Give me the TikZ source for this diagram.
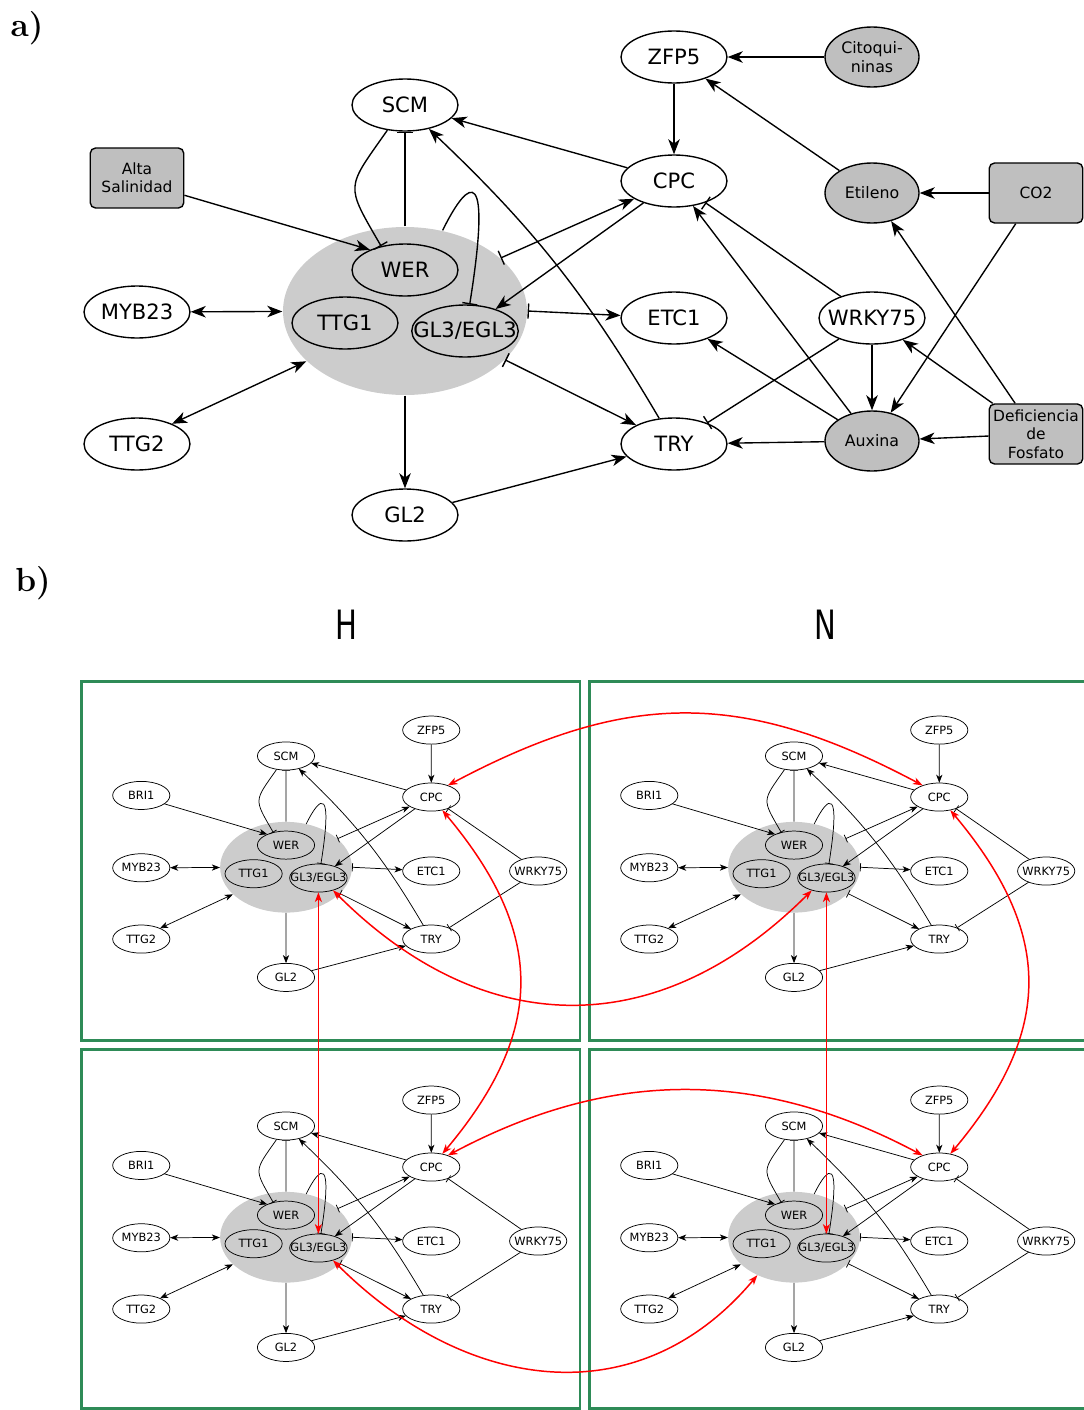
\documentclass[tikz,border=0pt]{standalone}
\usepackage{fontspec}
\setsansfont{DejaVu Sans}
\usetikzlibrary{arrows.meta,shapes.geometric}
\definecolor{boxgreen}{RGB}{46,139,87}

\tikzset{
  gene/.style={draw, ellipse, fill=white, minimum width=2.12cm, minimum height=1.04cm,
    inner xsep=-8pt, inner ysep=0pt, font=\sffamily\fontsize{12}{14}\selectfont},
  inner/.style={gene, fill=none},
  cx/.style={ellipse, fill=gray!40, minimum width=4.88cm, minimum height=3.36cm},
  horm/.style={draw, ellipse, fill=gray!50, minimum width=1.88cm, minimum height=1.2cm,
    inner sep=0pt, align=center, font=\sffamily\fontsize{9}{11}\selectfont},
  env/.style={draw, rounded corners=3pt, fill=gray!50, minimum width=1.87cm, minimum height=1.2cm,
    inner sep=1pt, align=center, font=\sffamily\fontsize{8.8}{10.5}\selectfont},
  act/.style={arrows={-{Stealth[length=0pt 11,width=0pt 8.4,inset=0pt 3.2]}}},
  both/.style={arrows={{Stealth[length=0pt 11,width=0pt 8.4,inset=0pt 3.2]}-{Stealth[length=0pt 11,width=0pt 8.4,inset=0pt 3.2]}}},
  inh/.style={arrows={-{Bar[width=0pt 11]}}},
  inhact/.style={arrows={{Bar[width=0pt 11]}-{Stealth[length=0pt 11,width=0pt 8.4,inset=0pt 3.2]}}},
  cross/.style={red, line width=0.85pt, arrows={{Stealth[length=5.5pt,width=4pt,inset=1.5pt]}-{Stealth[length=5.5pt,width=4pt,inset=1.5pt]}}},
  box/.style={draw=boxgreen, line width=1.7pt},
  tag/.style={font=\fontsize{19}{20}\selectfont\bfseries},
  colhead/.style={font=\sffamily\fontsize{23}{25}\selectfont}
}

% gene network, node names get the prefix #1
\newcommand{\grn}[1]{
  \node[cx] (#1-cx) at (405,311) {};
  \node[inner] (#1-wer) at (405,270) {WER};
  \node[inner] (#1-ttg1) at (345,323) {TTG1};
  \node[inner] (#1-gl3) at (465,331) {GL3/EGL3};
  \node[gene] (#1-scm) at (405,105) {SCM};
  \node[gene] (#1-myb) at (137,312) {MYB23};
  \node[gene] (#1-ttg2) at (137,444) {TTG2};
  \node[gene] (#1-gl2) at (405,515) {GL2};
  \node[gene] (#1-zfp) at (674,57) {ZFP5};
  \node[gene] (#1-cpc) at (674,181) {CPC};
  \node[gene] (#1-etc) at (674,318) {ETC1};
  \node[gene] (#1-wrky) at (872,318) {WRKY75};
  \node[gene] (#1-try) at (674,444) {TRY};
  \draw[inh] (#1-scm.235) to[out=235,in=120,looseness=1.6] (#1-wer.135);
  \draw[inh] (#1-cx.north) -- (#1-scm);
  \draw[inh] (#1-cx.65) .. controls (470,175) and (492,165) .. (#1-gl3.80);
  \draw[act] (#1-cpc) -- (#1-scm);
  \draw[act] (#1-try.120) to[bend right=8] (#1-scm.315);
  \draw[both] (#1-myb) -- (#1-cx);
  \draw[both] (#1-ttg2.30) -- (#1-cx.207);
  \draw[act] (#1-cx.south) -- (#1-gl2);
  \draw[act] (#1-gl2) -- (#1-try);
  \draw[inhact] (#1-cx.334) -- (#1-try);
  \draw[inhact] (#1-cx.east) -- (#1-etc);
  \draw[act] (#1-cpc) -- (#1-gl3);
  \draw[inhact] (#1-cx.29) -- (#1-cpc);
  \draw[act] (#1-zfp) -- (#1-cpc);
  \draw[inh] (#1-wrky) -- (#1-try);
  \draw[inh] (#1-wrky) -- (#1-cpc);
}

\begin{document}
\begin{tikzpicture}[x=0.02cm, y=-0.02cm]
\useasboundingbox (0,0) rectangle (1084,1410);

\node[tag] (la) at (27,28) {a)};
\begin{scope}[line width=0.78pt]
\grn{a}
\node[horm] (cito) at (872,57) {Citoqui-\\ninas};
\node[horm] (eti) at (872,193) {Etileno};
\node[horm] (aux) at (872,441) {Auxina};
\node[env] (sal) at (137,178) {Alta\\Salinidad};
\node[env] (co2) at (1036,193) {CO2};
\node[env] (fos) at (1036,434) {Deficiencia\\de\\Fosfato};
\draw[act] (sal.-20) -- (a-wer.150);
\draw[act] (cito) -- (a-zfp);
\draw[act] (eti) -- (a-zfp);
\draw[act] (co2) -- (eti);
\draw[act] (co2) -- (aux);
\draw[act] (fos) -- (eti);
\draw[act] (fos) -- (a-wrky);
\draw[act] (fos) -- (aux);
\draw[act] (a-wrky) -- (aux);
\draw[act] (aux) -- (a-cpc);
\draw[act] (aux) -- (a-etc);
\draw[act] (aux) -- (a-try);
\end{scope}

\node[tag] (lb) at (33,583) {b)};
\node[colhead] (hh) at (346,625) {\scalebox{0.72}[1]{H}};
\node[colhead] (hn) at (825,625) {\scalebox{0.72}[1]{N}};

\draw[box] (81.5,681.5) rectangle (580,1040.5);
\draw[box] (1084,681.5) -| (589.5,1040.5) -- (1084,1040.5);
\draw[box] (81.5,1049.5) rectangle (580,1408.5);
\draw[box] (1084,1049.5) -| (589.5,1408.5) -- (1084,1408.5);

\foreach \p/\sx/\sy in {ht/67.3/699.3, nt/575.3/699.3, hb/67.3/1069.3, nb/575.3/1069.3}{
  \begin{scope}[shift={(\sx,\sy)}, scale=0.54, transform shape, line width=0.42pt]
    \grn{\p}
    \node[gene] (\p-bri) at (137,178) {BRI1};
    \draw[act] (\p-bri.-20) -- (\p-wer.150);
  \end{scope}
}

\draw[cross] (ht-cpc.35) to[out=28,in=152,looseness=1.1] (nt-cpc.145);
\draw[cross] (hb-cpc.35) to[out=28,in=152,looseness=1.0] (nb-cpc.145);
\draw[cross] (ht-cpc.-50) to[out=-50,in=50,looseness=1.2] (hb-cpc.50);
\draw[cross] (nt-cpc.-50) to[out=-50,in=50,looseness=1.2] (nb-cpc.50);
\draw[cross] (ht-gl3) -- (hb-gl3);
\draw[cross] (nt-gl3) -- (nb-gl3);
\draw[cross] (ht-gl3.-40) to[out=-45,in=-135,looseness=1.15] (nt-gl3.-140);
\draw[cross] (hb-gl3.-40) to[out=-45,in=-130,looseness=1.12] (nb-cx.226);
\end{tikzpicture}
\end{document}
